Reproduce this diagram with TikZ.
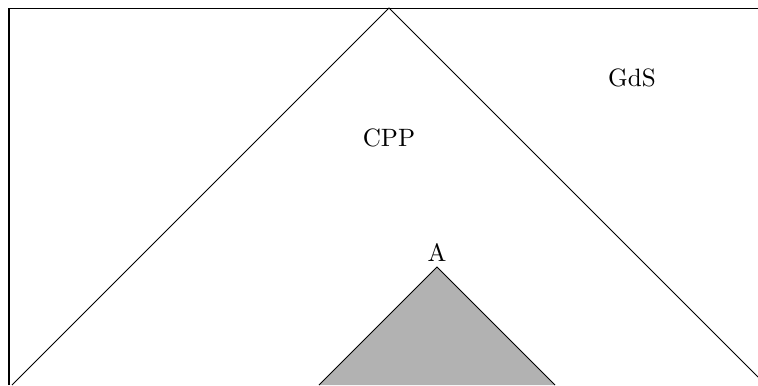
\documentclass[tikz,border=0pt]{standalone}
\usepackage{tikz}
\usetikzlibrary{positioning}

\begin{document}
\begin{tikzpicture}[
  x=0.014cm, y=0.014cm,
  edge/.style={thin,black},
  region/.style={draw=black,thin,fill=gray!60},
  label/.style={inner sep=2pt,font=\normalsize}
]
  \useasboundingbox (0,0) rectangle (758,385);
  \coordinate (corner) at (9,377);
  \coordinate (top) at (389,377);
  \coordinate (apex) at (437,118);
  % outer frame
  \draw[edge] (9,0) -- (corner) -- (758,377);
  % light cone of the top point
  \draw[edge] (12,0) -- (top) -- (758,8);
  % shaded cone
  \fill[region] (319,0) -- (apex) -- (555,0);
  \node (a) [label,above=0pt of apex] {A};
  \node (cpp) [label] at (389,247) {CPP};
  \node (gds) [label] at (632,307) {GdS};
\end{tikzpicture}
\end{document}
